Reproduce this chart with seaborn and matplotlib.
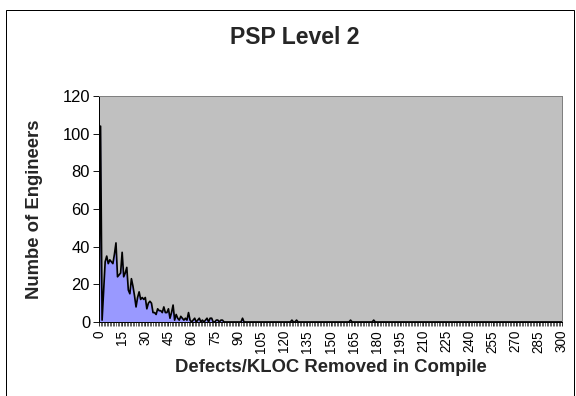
import numpy as np
import pandas as pd
import matplotlib
matplotlib.use("Agg")
import matplotlib.pyplot as plt
import seaborn as sns
from matplotlib.patches import Rectangle

# Number of engineers at each defect density (defects/KLOC removed in compile)
head_counts = [0, 104, 1, 17, 32, 35, 31, 33, 32, 31,
               36, 42, 24, 25, 26, 37, 24, 26, 29, 17,
               15, 23, 19, 14, 8, 13, 16, 12, 13, 12,
               13, 7, 10, 11, 10, 5, 5, 4, 7, 6,
               6, 5, 8, 5, 5, 7, 2, 5, 9, 1,
               4, 2, 1, 3, 2, 1, 2, 1, 5, 1,
               0, 1, 2, 0, 1, 2, 0, 1, 0, 1,
               2, 0, 2, 2, 0, 0, 1, 1, 0, 1, 1]
tail_positions = [93, 125, 128, 163, 178]
tail_counts = [2, 1, 1, 1, 1]
max_density = 300
tick_step = 15

title = "PSP Level 2"
x_label = "Defects/KLOC Removed in Compile"
y_label = "Numbe of Engineers"
y_ticks = [0, 20, 40, 60, 80, 100, 120]

density = np.arange(max_density + 1)
counts = np.zeros(max_density + 1)
counts[:len(head_counts)] = head_counts
counts[tail_positions] = tail_counts
df = pd.DataFrame({"density": density, "engineers": counts})

sns.set_style("white")
plt.rcParams["font.family"] = ["Liberation Sans", "DejaVu Sans"]

W, H = 576, 396
fig = plt.figure(figsize=(W / 72, H / 72), dpi=72)
fig.patch.set_facecolor("white")

# chart frame
fig.add_artist(Rectangle((6 / W, -0.05), (574 - 6) / W, 1.05 - 10 / H,
                         transform=fig.transFigure, fill=False,
                         edgecolor="black", linewidth=1.0))

ax = fig.add_axes([99 / W, 1 - 322 / H, (562 - 99) / W, (322 - 96) / H])
ax.set_facecolor("#C0C0C0")

ax.fill_between(df["density"], df["engineers"], 0, color="#9999FF",
                linewidth=0, zorder=2)
sns.lineplot(data=df, x="density", y="engineers", ax=ax, color="black",
             linewidth=1.7, zorder=3)

ax.set_xlim(0, max_density)
ax.set_ylim(0, 120)

ax.set_xticks(density, minor=True)
ax.set_xticks(density[::tick_step])
ax.set_xticklabels([str(v) for v in density[::tick_step]], rotation=90,
                   fontsize=13.5)
ax.tick_params(axis="x", which="major", length=4, width=0.8, direction="out",
               pad=4, colors="black", bottom=True)
ax.tick_params(axis="x", which="minor", length=4, width=0.6, direction="out",
               colors="black", bottom=True)
ax.set_yticks(y_ticks)
ax.set_yticklabels([str(v) for v in y_ticks], fontsize=16.5)
ax.tick_params(axis="y", length=6, width=0.9, direction="out", pad=3,
               colors="black", left=True)

for side in ["top", "right"]:
    ax.spines[side].set_color("#808080")
    ax.spines[side].set_linewidth(1.0)
for side in ["left", "bottom"]:
    ax.spines[side].set_color("black")
    ax.spines[side].set_linewidth(1.0)

ax.set_xlabel(x_label, fontsize=18.5, fontweight="bold", va="center")
ax.xaxis.set_label_coords((331 - 99) / 463, (322 - 368) / 226)
ax.set_ylabel(y_label, fontsize=18.5, fontweight="bold", va="center")
ax.yaxis.set_label_coords((35 - 99) / 463, (322 - 209) / 226)
fig.text(295 / W, 1 - 38 / H, title,
         ha="center", va="center", fontsize=23, fontweight="bold")

fig.savefig("out.png", dpi=72)
